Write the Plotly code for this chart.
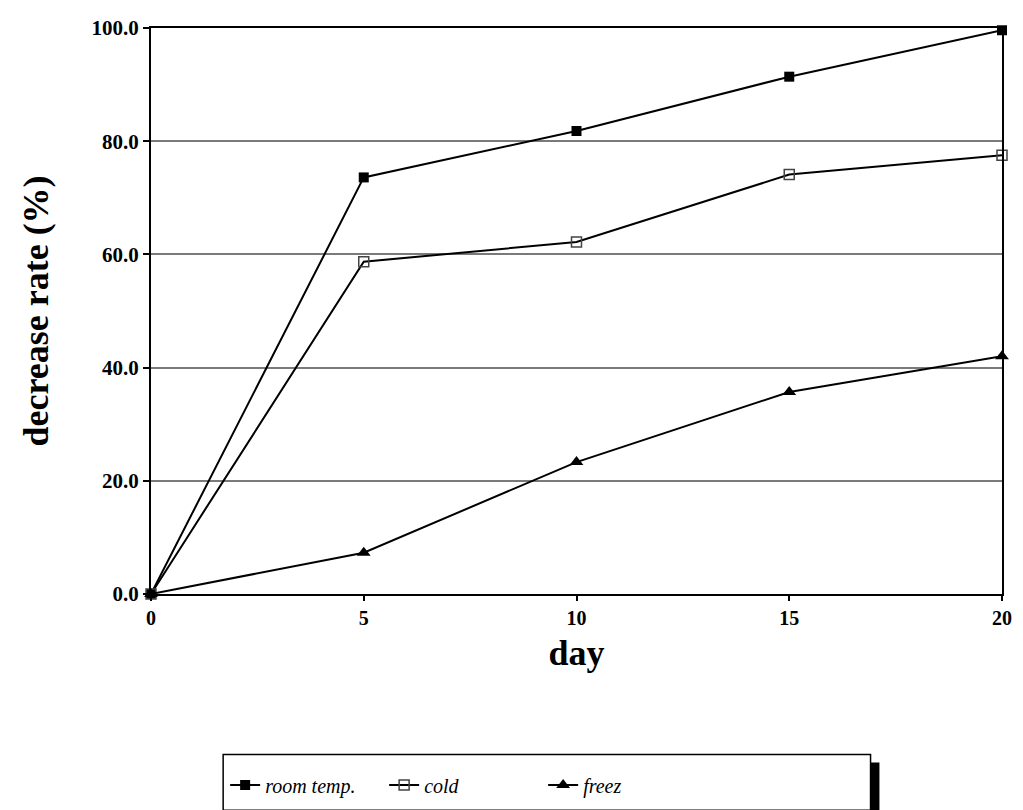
import plotly.graph_objects as go

days = [0, 5, 10, 15, 20]
room_temp = [0.0, 73.6, 81.8, 91.4, 99.6]
cold = [0.0, 58.7, 62.2, 74.1, 77.5]
freez = [0.0, 7.3, 23.3, 35.7, 42.0]
y_ticks = [0, 20, 40, 60, 80, 100]
x_ticks = [0, 5, 10, 15, 20]

serif = "Liberation Serif, Times New Roman, serif"

# pixel geometry of the plot area in the picture
PX0, PX1, PY0, PY1 = 151, 1012, 28, 596
W, H = 1023, 816


def px(x):
    return (x - PX0) / (PX1 - PX0)


def py(y):
    return (PY1 - y) / (PY1 - PY0)


fig = go.Figure()
fig.add_trace(go.Scatter(x=days, y=room_temp, name="room temp.", mode="lines+markers",
                         line=dict(color="black", width=2),
                         marker=dict(symbol="square", size=10, color="black"),
                         cliponaxis=False))
fig.add_trace(go.Scatter(x=days, y=cold, name="cold", mode="lines+markers",
                         line=dict(color="black", width=2),
                         marker=dict(symbol="square-open", size=10, color="#444",
                                     line=dict(width=1.5)),
                         cliponaxis=False))
fig.add_trace(go.Scatter(x=days, y=freez, name="freez", mode="lines+markers",
                         line=dict(color="black", width=2),
                         marker=dict(symbol="triangle-up", size=12, color="black"),
                         cliponaxis=False))

# legend box with shadow (decoration)
fig.add_shape(type="rect", xref="paper", yref="paper",
              x0=px(232), x1=px(888), y0=py(824), y1=py(765),
              fillcolor="black", line=dict(width=0), layer="below")
fig.add_shape(type="rect", xref="paper", yref="paper",
              x0=px(224), x1=px(879), y0=py(813), y1=py(757),
              fillcolor="white", line=dict(color="black", width=1.5), layer="below")

fig.update_layout(
    width=W, height=H, autosize=False,
    margin=dict(l=PX0, r=W - PX1, t=PY0, b=H - PY1),
    paper_bgcolor="white", plot_bgcolor="white",
    showlegend=True,
    legend=dict(orientation="h", x=px(226), xanchor="left",
                y=py(768), yanchor="top",
                bgcolor="rgba(0,0,0,0)", borderwidth=0,
                entrywidth=114, entrywidthmode="pixels",
                font=dict(family=serif, size=20, color="black", style="italic")),
    xaxis=dict(range=[0, 20], tickvals=x_ticks, ticktext=[str(v) for v in x_ticks],
               showgrid=False, zeroline=False,
               showline=True, linecolor="black", linewidth=2, mirror=True,
               ticks="outside", ticklen=5, tickcolor="black", tickwidth=1.5,
               tickfont=dict(family=serif, size=20, color="black", weight="bold"),
               title=dict(text="day", standoff=12,
                          font=dict(family=serif, size=36, color="black", weight="bold"))),
    yaxis=dict(range=[0, 100], tickvals=y_ticks, tickformat=".1f",
               showgrid=True, gridcolor="#7a7a7a", gridwidth=1.5, zeroline=False,
               showline=True, linecolor="black", linewidth=2, mirror=True,
               ticks="outside", ticklen=6, tickcolor="black", tickwidth=1.5,
               tickfont=dict(family=serif, size=21, color="black", weight="bold"),
               title=dict(text="decrease rate (%)", standoff=32,
                          font=dict(family=serif, size=36, color="black", weight="bold"))),
)

fig.write_html("out.html", config={"displayModeBar": False},
               post_script="document.body.style.margin='0';document.body.style.overflow='hidden';")
